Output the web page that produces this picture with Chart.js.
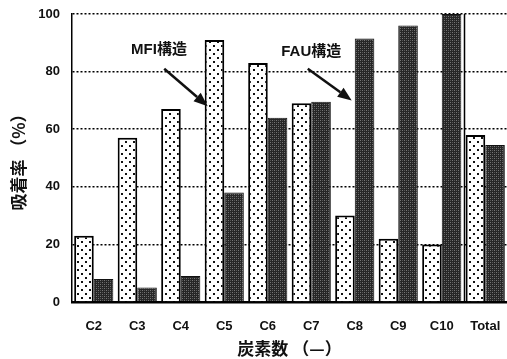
<!DOCTYPE html>
<html><head><meta charset="utf-8">
<script src="https://cdn.jsdelivr.net/npm/chart.js@4"></script>
<style>html,body{margin:0;padding:0;background:#fff;}#wrap{width:507px;height:359px;}</style>
</head><body><div id="wrap"><canvas id="c" width="507" height="359"></canvas></div>
<script>
const categories = ['C2','C3','C4','C5','C6','C7','C8','C9','C10','Total'];
const mfiValues = [23, 57, 67, 91, 83, 69, 30, 22, 20, 58];
const fauValues = [8, 5, 9, 38, 64, 69.5, 91.5, 96, 100, 54.5];
const yTicks = [0, 20, 40, 60, 80, 100];
const seriesNames = ['MFI構造', 'FAU構造'];

function dotPattern(){
  const c = document.createElement('canvas'); c.width = 8; c.height = 8;
  const g = c.getContext('2d');
  g.fillStyle = '#fff'; g.fillRect(0,0,8,8);
  g.fillStyle = '#111';
  g.fillRect(1,1,2,2); g.fillRect(5,5,2,2);
  return g.createPattern(c,'repeat');
}
function darkPattern(){
  const c = document.createElement('canvas'); c.width = 4; c.height = 4;
  const g = c.getContext('2d');
  g.fillStyle = '#262626'; g.fillRect(0,0,4,4);
  g.fillStyle = '#777';
  g.fillRect(0,0,1,1); g.fillRect(2,2,1,1);
  g.fillStyle = '#555';
  g.fillRect(2,0,1,1); g.fillRect(0,2,1,1);
  return g.createPattern(c,'repeat');
}

const annotations = [
  {text: seriesNames[0], tx: 1.5, ty: 87.5, ax0: 1.62, ay0: 81, ax1: 2.62, ay1: 68},
  {text: seriesNames[1], tx: 5.0, ty: 87, ax0: 4.92, ay0: 81, ax1: 5.93, ay1: 70}
];

const extras = {
  id: 'extras',
  afterDatasetsDraw(chart){
    const {ctx, scales:{x, y}, chartArea} = chart;
    ctx.save();
    const sx = (x.getPixelForValue(8) + x.getPixelForValue(9)) / 2 + 1;
    ctx.strokeStyle = '#000'; ctx.lineWidth = 1.5;
    ctx.beginPath(); ctx.moveTo(sx, chartArea.top); ctx.lineTo(sx, chartArea.bottom); ctx.stroke();
    ctx.fillStyle = '#111';
    ctx.font = 'bold 15px "Liberation Sans", "Noto Sans CJK JP", sans-serif';
    ctx.textAlign = 'center'; ctx.textBaseline = 'middle';
    annotations.forEach(a => {
      ctx.fillText(a.text, x.getPixelForValue(a.tx), y.getPixelForValue(a.ty));
      const x0 = x.getPixelForValue(a.ax0), y0 = y.getPixelForValue(a.ay0);
      const x1 = x.getPixelForValue(a.ax1), y1 = y.getPixelForValue(a.ay1);
      const ang = Math.atan2(y1 - y0, x1 - x0);
      const L = 14, W = 5.5;
      const bx = x1 - L*Math.cos(ang), by = y1 - L*Math.sin(ang);
      ctx.strokeStyle = '#111'; ctx.lineWidth = 2.5;
      ctx.beginPath(); ctx.moveTo(x0, y0); ctx.lineTo(bx, by); ctx.stroke();
      ctx.beginPath();
      ctx.moveTo(x1, y1);
      ctx.lineTo(bx + W*Math.sin(ang), by - W*Math.cos(ang));
      ctx.lineTo(bx - W*Math.sin(ang), by + W*Math.cos(ang));
      ctx.closePath(); ctx.fill();
    });
    ctx.restore();
  }
};

new Chart(document.getElementById('c'), {
  type: 'bar',
  data: {
    labels: categories,
    datasets: [
      {label: seriesNames[0], data: mfiValues, backgroundColor: dotPattern(), borderColor: '#000', borderWidth: 2},
      {label: seriesNames[1], data: fauValues, backgroundColor: darkPattern(), borderColor: '#111', borderWidth: 1}
    ]
  },
  options: {
    responsive: false,
    animation: false,
    layout: {padding: {top: 14, right: 0, left: 0, bottom: 0}},
    datasets: {bar: {categoryPercentage: 0.9, barPercentage: 1.0}},
    plugins: {legend: {display: false}, tooltip: {enabled: false}},
    scales: {
      x: {
        grid: {display: false},
        border: {display: true, color: '#000', width: 2.5},
        ticks: {color: '#111', font: {family: '"Liberation Sans", sans-serif', size: 13, weight: 'bold'}, padding: 9, maxRotation: 0, autoSkip: false},
        title: {display: true, text: '炭素数 （—）', color: '#111', font: {family: '"Noto Sans CJK JP", sans-serif', size: 17, weight: 'bold'}, padding: {top: 0, bottom: 0}},
        afterFit(s){ s.height = 57; s.paddingRight = 0; s.paddingLeft = 0; }
      },
      y: {
        min: 0, max: 100,
        afterBuildTicks(s){ s.ticks = yTicks.map(v => ({value: v})); },
        grid: {color: '#000', lineWidth: 1.5, drawTicks: false},
        border: {display: true, color: '#000', width: 1.5, dash: [2,2]},
        ticks: {color: '#111', font: {family: '"Liberation Sans", sans-serif', size: 13, weight: 'bold'}, padding: 12},
        title: {display: true, text: '吸着率 （%）', color: '#111', font: {family: '"Noto Sans CJK JP", sans-serif', size: 17, weight: 'bold'}, padding: {top: 8, bottom: 0}},
        afterFit(s){ s.width = 72; s.paddingTop = 0; s.paddingBottom = 0; }
      }
    }
  },
  plugins: [extras]
});
</script>
</body></html>
